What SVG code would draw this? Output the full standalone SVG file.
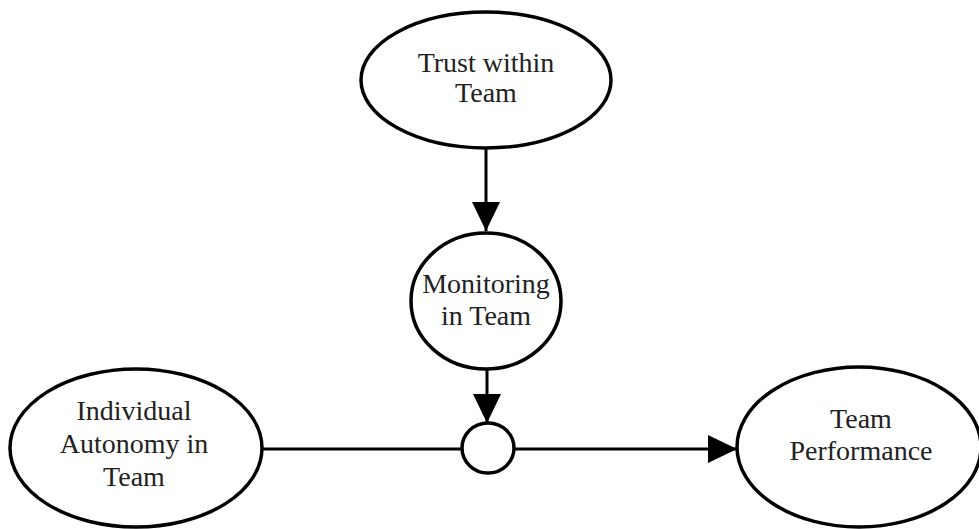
<svg xmlns="http://www.w3.org/2000/svg" width="979" height="529" viewBox="0 0 979 529">
<style>
.node{fill:#fff;stroke:#000;stroke-width:3.5}
.lbl{font-family:"Liberation Serif","DejaVu Serif",serif;font-size:28px;fill:#222;text-anchor:middle}
.edge{stroke:#000;stroke-width:3;fill:none}
</style>
<defs>
<marker id="arr" markerUnits="userSpaceOnUse" markerWidth="30" markerHeight="30" refX="29" refY="14" orient="auto">
<path d="M0,0 L29,14 L0,28 Z" fill="#000"/>
</marker>
</defs>
<rect width="979" height="529" fill="#fff"/>
<g id="connectors">
<line class="edge" x1="486" y1="148" x2="486" y2="231" marker-end="url(#arr)"/>
<line class="edge" x1="487" y1="369" x2="487" y2="423" marker-end="url(#arr)"/>
<line class="edge" x1="262" y1="449" x2="462" y2="449"/>
<line class="edge" x1="514" y1="449" x2="737" y2="449" marker-end="url(#arr)"/>
</g>
<g id="trust">
<ellipse class="node" cx="486" cy="80" rx="125" ry="68"/>
<text class="lbl" x="486" y="72">Trust within</text>
<text class="lbl" x="486" y="102">Team</text>
</g>
<g id="monitoring">
<ellipse class="node" cx="486" cy="301" rx="75" ry="68"/>
<text class="lbl" x="486" y="293">Monitoring</text>
<text class="lbl" x="486" y="325">in Team</text>
</g>
<g id="moderator">
<ellipse class="node" cx="488" cy="448" rx="26" ry="25"/>
</g>
<g id="autonomy">
<ellipse class="node" cx="136" cy="448" rx="126" ry="79"/>
<text class="lbl" x="134" y="420">Individual</text>
<text class="lbl" x="134" y="453">Autonomy in</text>
<text class="lbl" x="134" y="486">Team</text>
</g>
<g id="performance">
<ellipse class="node" cx="859" cy="447" rx="122" ry="80"/>
<text class="lbl" x="861" y="428">Team</text>
<text class="lbl" x="861" y="460">Performance</text>
</g>
</svg>
